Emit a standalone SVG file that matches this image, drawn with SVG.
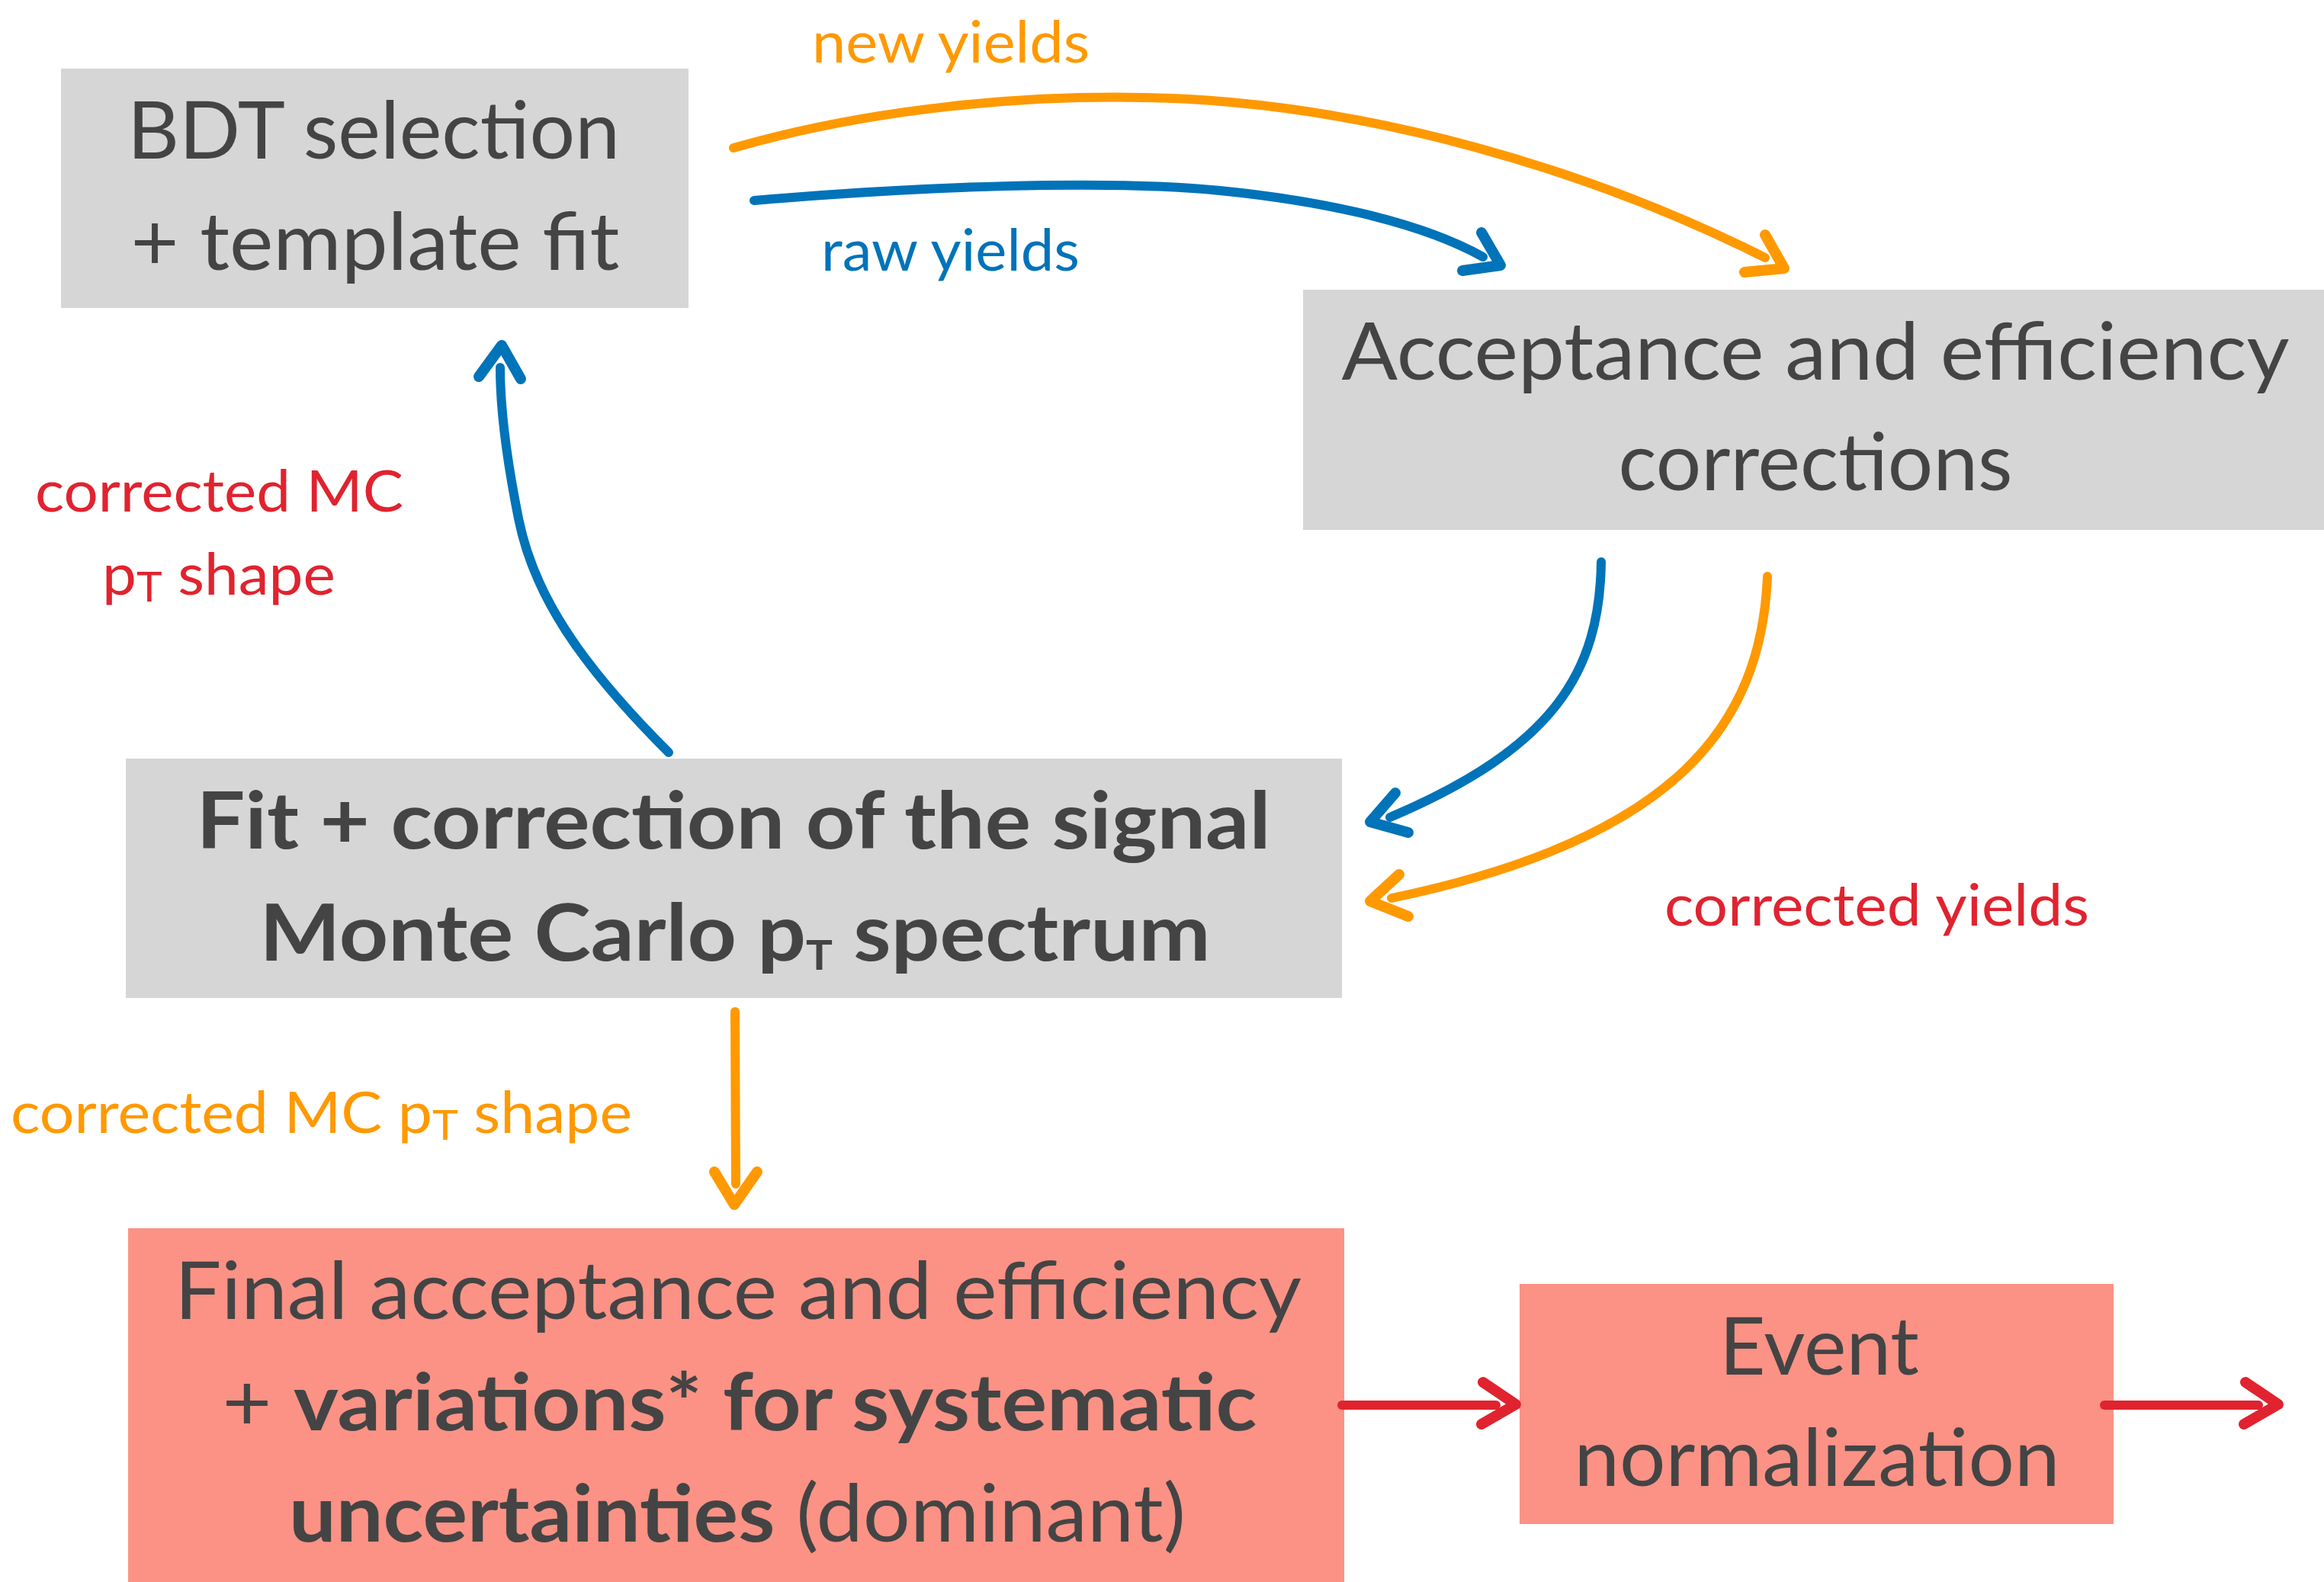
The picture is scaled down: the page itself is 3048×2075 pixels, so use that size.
<svg xmlns="http://www.w3.org/2000/svg" width="3048" height="2075" viewBox="0 0 3048 2075">
<style>
.gray{fill:#d6d6d6}
.salmon{fill:#fb9285}
.bt{font-family:Lato,"Noto Sans","Liberation Sans",sans-serif;font-size:104px;fill:#444444;text-anchor:middle}
.b{font-weight:bold}
.lbl{font-family:Lato,"Noto Sans","Liberation Sans",sans-serif;font-size:76px}
.or{fill:#ff9900}
.bl{fill:#0073b9}
.rd{fill:#e0232f}
.sub{font-size:54px}
.line{fill:none;stroke-linecap:round;stroke-linejoin:round;stroke-width:12}
.head{fill:none;stroke-linecap:round;stroke-linejoin:round;stroke-width:14}
.so{stroke:#ff9900}
.sb{stroke:#0073b9}
.sr{stroke:#e0232f}
</style>
<rect width="3048" height="2075" fill="#ffffff"/>

<g id="bdt">
<rect class="gray" x="80" y="90" width="823" height="314"/>
<text class="bt" x="490" y="208" textLength="646" lengthAdjust="spacingAndGlyphs">BDT selection</text>
<text class="bt" x="492" y="354" textLength="641" lengthAdjust="spacingAndGlyphs">+ template fit</text>
</g>

<g id="acc">
<rect class="gray" x="1709" y="380" width="1339" height="315"/>
<text class="bt" x="2381" y="498" textLength="1243" lengthAdjust="spacingAndGlyphs">Acceptance and efficiency</text>
<text class="bt" x="2381" y="643" textLength="517" lengthAdjust="spacingAndGlyphs">corrections</text>
</g>

<g id="fit">
<rect class="gray" x="165" y="995" width="1595" height="314"/>
<text class="bt b" x="962" y="1113" textLength="1409" lengthAdjust="spacingAndGlyphs">Fit + correction of the signal</text>
<text class="bt b" x="964" y="1260" textLength="1247" lengthAdjust="spacingAndGlyphs">Monte Carlo p<tspan class="sub" dy="12">T</tspan><tspan dy="-12"> spectrum</tspan></text>
</g>

<g id="final">
<rect class="salmon" x="168" y="1611" width="1595" height="464"/>
<text class="bt" x="968" y="1730" textLength="1478" lengthAdjust="spacingAndGlyphs">Final acceptance and efficiency</text>
<text class="bt" x="970" y="1876" textLength="1357" lengthAdjust="spacingAndGlyphs">+ <tspan class="b">variations* for systematic</tspan></text>
<text class="bt" x="967" y="2022" textLength="1176" lengthAdjust="spacingAndGlyphs"><tspan class="b">uncertainties</tspan> (dominant)</text>
</g>

<g id="event">
<rect class="salmon" x="1993" y="1684" width="779" height="315"/>
<text class="bt" x="2386" y="1803" textLength="262" lengthAdjust="spacingAndGlyphs">Event</text>
<text class="bt" x="2383" y="1949" textLength="637" lengthAdjust="spacingAndGlyphs">normalization</text>
</g>

<g id="labels">
<text class="lbl or" x="1065" y="82" textLength="364" lengthAdjust="spacingAndGlyphs">new yields</text>
<text class="lbl bl" x="1077" y="355" textLength="339" lengthAdjust="spacingAndGlyphs">raw yields</text>
<text class="lbl rd" x="46" y="671" textLength="483" lengthAdjust="spacingAndGlyphs">corrected MC</text>
<text class="lbl rd" x="134" y="780" textLength="306" lengthAdjust="spacingAndGlyphs">p<tspan class="sub" dy="9">T</tspan><tspan dy="-9"> shape</tspan></text>
<text class="lbl or" x="14" y="1486" textLength="815" lengthAdjust="spacingAndGlyphs">corrected MC p<tspan class="sub" dy="9">T</tspan><tspan dy="-9"> shape</tspan></text>
<text class="lbl rd" x="2183" y="1214" textLength="557" lengthAdjust="spacingAndGlyphs">corrected yields</text>
</g>

<g id="connectors">
<path class="line so" d="M962,194 C1150,140 1350,125 1500,128 C1800,133 2100,230 2315,338"/>
<path class="head so" d="M2315,308 L2340,352 L2288,357"/>
<path class="line sb" d="M989,263 C1200,245 1450,235 1600,250 C1750,265 1870,295 1945,337"/>
<path class="head sb" d="M1943,305 L1968,348 L1918,355"/>
<path class="line sb" d="M877,987 C760,870 700,780 680,680 C662,590 656,530 656,482"/>
<path class="head sb" d="M628,494 L658,453 L683,497"/>
<path class="line sb" d="M2100,737 C2098,880 2040,980 1823,1072"/>
<path class="head sb" d="M1830,1040 L1797,1078 L1847,1092"/>
<path class="line so" d="M2318,756 C2310,950 2200,1100 1825,1178"/>
<path class="head so" d="M1835,1147 L1797,1182 L1847,1202"/>
<path class="line so" d="M964,1327 L965,1553"/>
<path class="head so" d="M937,1537 L963,1580 L993,1537"/>
<path class="line sr" d="M1760,1843 L1962,1843"/>
<path class="head sr" d="M1945,1813 L1988,1842 L1943,1868"/>
<path class="line sr" d="M2760,1843 L2962,1843"/>
<path class="head sr" d="M2945,1813 L2988,1842 L2943,1868"/>
</g>
</svg>
